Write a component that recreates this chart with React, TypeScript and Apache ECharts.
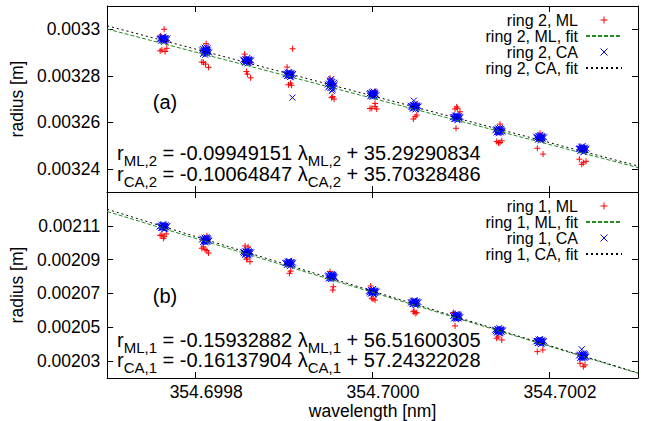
import React, { useEffect, useRef } from 'react';
import * as echarts from 'echarts';

// ---- axes ----
const xRange = [354.6997, 354.7003];
const xTicks = [354.6998, 354.7, 354.7002];
const ring2Range = [0.00323, 0.00331];
const ring2Ticks = [0.00324, 0.00326, 0.00328, 0.0033];
const ring1Range = [0.00202, 0.00213];
const ring1Ticks = [0.00203, 0.00205, 0.00207, 0.00209, 0.00211];

// ---- measurement wavelengths (nm), one per cluster ----
const clusterWavelengths = [
  354.6997636, 354.6998112, 354.6998582, 354.6999058, 354.6999533, 354.7000002,
  354.7000476, 354.700095, 354.7001429, 354.7001893, 354.7002374,
];

// ML points per cluster: [wavelength offset (1e-6 nm), radius (µm)]
const ring2ML = [
  [[0.8, 3300.0], [-3.2, 3297.1], [-0.3, 3295.8], [3.1, 3295.0], [-1.8, 3291.1], [1.9, 3290.4], [3.8, 3291.8], [-3.7, 3290.7]],
  [[0.7, 3293.8], [-1.6, 3291.0], [1.8, 3289.7], [-2.4, 3285.7], [-0.1, 3285.0], [3.3, 3283.6], [-4.2, 3285.9]],
  [[-2.8, 3289.3], [0, 3286.8], [3.4, 3285.9], [-0.8, 3281.8], [0.3, 3280.7], [4.0, 3279.1]],
  [[3.8, 3291.6], [-2.4, 3283.7], [0, 3280.8], [2.2, 3279.9], [1.4, 3276.8], [2.7, 3275.9], [-0.9, 3276.1]],
  [[-1.4, 3278.9], [0, 3275.6], [2.0, 3276.4], [1.7, 3271.0], [3.2, 3270.0], [0.3, 3270.6]],
  [[2.6, 3273.4], [-0.8, 3271.8], [-1.1, 3266.0], [2.6, 3266.7], [4.5, 3265.7], [-3.1, 3265.9], [2.6, 3268.1]],
  [[-0.7, 3267.0], [1.6, 3267.9], [0.5, 3262.4], [2.4, 3263.1], [-1.5, 3261.4]],
  [[-1.8, 3265.7], [0.1, 3266.6], [3.8, 3264.5], [0.8, 3266.0], [0.5, 3261.8], [-0.7, 3257.4]],
  [[1.1, 3259.2], [0, 3256.2], [-2.6, 3251.7], [1.1, 3251.3], [3.1, 3252.0], [-0.6, 3251.1]],
  [[0, 3255.3], [0.8, 3253.2], [-3.1, 3248.8], [3.4, 3246.3]],
  [[-0.7, 3248.6], [-2.9, 3249.3], [-3.7, 3244.1], [0.8, 3242.6], [3.8, 3243.2], [-1.0, 3241.9]],
];

const ring1ML = [
  [[-0.3, 2109.9], [1.9, 2108.7], [-1.8, 2104.6], [0.8, 2103.6], [3.1, 2105.2], [0, 2102.6], [-3.7, 2104.3]],
  [[1.5, 2104.0], [-0.5, 2101.6], [-2.4, 2097.5], [-0.5, 2096.0], [3.3, 2093.9], [1.5, 2095.3], [-4.2, 2096.7]],
  [[-2.3, 2098.1], [1.1, 2097.5], [0, 2094.3], [-0.6, 2090.2], [3.2, 2088.8], [0, 2091.0]],
  [[0.5, 2088.0], [-1.5, 2087.4], [0.2, 2081.9], [1.6, 2083.2]],
  [[-1.4, 2082.9], [0.6, 2079.6], [1.7, 2072.0], [2.3, 2074.0]],
  [[-2.3, 2074.4], [0.5, 2071.2], [-1.1, 2067.1], [2.6, 2066.1], [0.3, 2066.7]],
  [[-0.5, 2064.9], [1.4, 2064.1], [-1.5, 2059.2], [2.4, 2058.6], [0.5, 2058.2], [-0.7, 2059.6]],
  [[-3.7, 2058.7], [-1.8, 2058.2], [0.8, 2056.0], [-1.8, 2050.8]],
  [[0.3, 2048.2], [-2.6, 2043.5], [3.1, 2042.5], [-1.1, 2044.3]],
  [[0.4, 2041.7], [-3.1, 2035.6], [3.1, 2036.6]],
  [[-0.4, 2033.4], [-2.9, 2028.7], [2.7, 2027.7], [0.8, 2026.7]],
];

// CA cluster centres (µm) and spread of each cluster: [wavelength offset (1e-6 nm), radius offset (µm)]
const ring2CACentres = [3295.7, 3290.6, 3286.5, 3280.5, 3276.0, 3272.0, 3266.7, 3262.0, 3256.4, 3253.4, 3248.4];
const ring2CASpread = [
  [[0, 0], [-3.4, 0.3], [3.4, -0.3], [-1.7, 0.9], [1.7, -0.9], [-2.5, -0.6], [2.5, 0.6], [-4.3, 0.1], [4.3, 0.3], [0, 1.1], [0.8, -1.1], [-1.1, -0.3], [1.2, 0.4], [-0.5, 0.5], [2.0, -0.1], [-2.2, 0.2], [-0.6, 0.2], [0.7, -0.2], [-1.8, -0.5], [1.9, 0.3], [0.2, -0.5], [-0.2, 0.6]],
  [[0.4, 0.2], [-3, 0.9], [3, -0.3], [-1.1, 1.5], [2.1, -1.2], [-2.7, -1.2], [2.3, 1.2], [-3.9, 0.3], [4.1, -0.6], [-0.4, -1.6], [1.0, 1.7], [-1.6, 0.1], [1.5, -0.4], [0.2, 0.9], [-0.9, -0.7], [2.8, 0.3], [-0.5, 0.3], [0.8, -0.1], [-1.9, -0.6], [1.7, 0.5], [0.3, -0.8], [-0.1, 0.7]],
  [[-0.2, -0.1], [-3.6, -0.2], [3.2, 0.4], [-2.0, 0.7], [1.4, -1.0], [-2.3, -0.9], [2.8, -0.5], [-4.4, 0.4], [4.5, 0.1], [0.3, 1.2], [0.7, -1.2], [-1.0, 0.3], [1.8, 0.6], [-0.6, -0.6], [2.4, -0.2], [-2.9, 0.1], [-0.7, 0.1], [0.6, -0.3], [-1.6, -0.4], [2.1, 0.2], [0.1, -0.4], [-0.3, 0.5]],
  [[0, 0], [-3.4, 0.3], [3.4, -0.3], [-1.7, 0.9], [1.7, -0.9], [-2.5, -0.6], [2.5, 0.6], [-4.3, 0.1], [4.3, 0.3], [0, 1.1], [0.8, -1.1], [-1.1, -0.3], [1.2, 0.4], [-0.5, 0.5], [2.0, -0.1], [-2.2, 0.2], [-0.6, 0.2], [0.7, -0.2], [-1.8, -0.5], [1.9, 0.3], [0.2, -0.5], [-0.2, 0.6], [3.6, -9.9]],
  [[0, 0], [-2.6, 0.6], [2.6, -0.5], [-1.5, 1.9], [1.5, -1.9], [-3.3, -1.0], [3.3, 1.0], [0, 2.6], [0.8, -2.5], [-4.0, 0.2], [4.0, 0.3], [-0.9, -1.2], [1.1, 1.3], [-0.3, 0.8], [2.0, -0.3], [-2.0, -0.3], [-0.6, 0.4], [0.7, -0.4], [-1.2, 1.2], [1.4, -1.0], [0.3, -1.3], [-0.2, 1.6]],
  [[0.4, 0.1], [-3, 0.6], [3, -0.2], [-1.1, 1.0], [2.1, -0.8], [-2.7, -0.8], [2.3, 0.8], [-3.9, 0.2], [4.1, -0.4], [-0.4, -1.1], [1.0, 1.2], [-1.6, 0.1], [1.5, -0.3], [0.2, 0.6], [-0.9, -0.5], [2.8, 0.2], [-0.5, 0.3], [0.8, -0.1], [-1.9, -0.5], [1.7, 0.4], [0.3, -0.6], [-0.1, 0.6]],
  [[-0.2, -0.1], [-3.6, -0.2], [3.2, 0.4], [-2.0, 0.7], [1.4, -1.0], [-2.3, -0.9], [2.8, -0.5], [-4.4, 0.4], [4.5, 0.1], [0.3, 1.2], [0.7, -1.2], [-1.0, 0.3], [1.8, 0.6], [-0.6, -0.6], [2.4, -0.2], [-2.9, 0.1], [-0.7, 0.1], [0.6, -0.3], [-1.6, -0.4], [2.1, 0.2], [0.1, -0.4], [-0.3, 0.5], [-1.0, 2.6]],
  [[0, 0], [-3.4, 0.3], [3.4, -0.3], [-1.7, 0.9], [1.7, -0.9], [-2.5, -0.6], [2.5, 0.6], [-4.3, 0.1], [4.3, 0.3], [0, 1.1], [0.8, -1.1], [-1.1, -0.3], [1.2, 0.4], [-0.5, 0.5], [2.0, -0.1], [-2.2, 0.2], [-0.6, 0.2], [0.7, -0.2], [-1.8, -0.5], [1.9, 0.3], [0.2, -0.5], [-0.2, 0.6]],
  [[0.4, 0.1], [-3, 0.6], [3, -0.2], [-1.1, 1.0], [2.1, -0.8], [-2.7, -0.8], [2.3, 0.8], [-3.9, 0.2], [4.1, -0.4], [-0.4, -1.1], [1.0, 1.2], [-1.6, 0.1], [1.5, -0.3], [0.2, 0.6], [-0.9, -0.5], [2.8, 0.2], [-0.5, 0.3], [0.8, -0.1], [-1.9, -0.5], [1.7, 0.4], [0.3, -0.6], [-0.1, 0.6]],
  [[-0.2, -0.1], [-3.6, -0.2], [3.2, 0.4], [-2.0, 0.7], [1.4, -1.0], [-2.3, -0.9], [2.8, -0.5], [-4.4, 0.4], [4.5, 0.1], [0.3, 1.2], [0.7, -1.2], [-1.0, 0.3], [1.8, 0.6], [-0.6, -0.6], [2.4, -0.2], [-2.9, 0.1], [-0.7, 0.1], [0.6, -0.3], [-1.6, -0.4], [2.1, 0.2], [0.1, -0.4], [-0.3, 0.5]],
  [[0, 0], [-3.4, 0.4], [3.4, -0.4], [-1.7, 1.1], [1.7, -1.1], [-2.5, -0.7], [2.5, 0.7], [-4.3, 0.1], [4.3, 0.3], [0, 1.3], [0.8, -1.3], [-1.1, -0.3], [1.2, 0.4], [-0.5, 0.5], [2.0, -0.1], [-2.2, 0.2], [-0.6, 0.2], [0.7, -0.2], [-1.8, -0.5], [1.9, 0.3], [0.2, -0.5], [-0.2, 0.6]],
];

const ring1CACentres = [2109.5, 2101.6, 2094.1, 2087.8, 2079.9, 2071.0, 2064.5, 2056.3, 2048.0, 2041.5, 2033.0];
const ring1CASpread = [
  [[0, 0], [-3.4, 0.4], [3.4, -0.4], [-1.7, 1.2], [1.7, -1.2], [-2.5, -0.8], [2.5, 0.8], [-4.3, 0.1], [4.3, 0.4], [0, 1.5], [0.8, -1.5], [-1.1, -0.4], [1.2, 0.5], [-0.5, 0.7], [2.0, -0.1], [-2.2, 0.3], [-0.6, 0.3], [0.7, -0.3], [-1.8, -0.7], [1.9, 0.4], [0.2, -0.7], [-0.2, 0.8]],
  [[0.4, 0.1], [-3, 0.8], [3, -0.3], [-1.1, 1.4], [2.1, -1.1], [-2.7, -1.1], [2.3, 1.1], [-3.9, 0.3], [4.1, -0.5], [-0.4, -1.5], [1.0, 1.6], [-1.6, 0.1], [1.5, -0.4], [0.2, 0.8], [-0.9, -0.7], [2.8, 0.3], [-0.5, 0.4], [0.8, -0.1], [-1.9, -0.7], [1.7, 0.5], [0.3, -0.8], [-0.1, 0.8]],
  [[-0.2, -0.1], [-3.6, -0.3], [3.2, 0.5], [-2.0, 1.0], [1.4, -1.4], [-2.3, -1.2], [2.8, -0.7], [-4.4, 0.5], [4.5, 0.1], [0.3, 1.6], [0.7, -1.6], [-1.0, 0.4], [1.8, 0.8], [-0.6, -0.8], [2.4, -0.3], [-2.9, 0.1], [-0.7, 0.1], [0.6, -0.4], [-1.6, -0.5], [2.1, 0.3], [0.1, -0.5], [-0.3, 0.7]],
  [[0, 0], [-3.4, 0.4], [3.4, -0.4], [-1.7, 1.2], [1.7, -1.2], [-2.5, -0.8], [2.5, 0.8], [-4.3, 0.1], [4.3, 0.4], [0, 1.5], [0.8, -1.5], [-1.1, -0.4], [1.2, 0.5], [-0.5, 0.7], [2.0, -0.1], [-2.2, 0.3], [-0.6, 0.3], [0.7, -0.3], [-1.8, -0.7], [1.9, 0.4], [0.2, -0.7], [-0.2, 0.8]],
  [[0.4, 0.1], [-3, 0.8], [3, -0.3], [-1.1, 1.4], [2.1, -1.1], [-2.7, -1.1], [2.3, 1.1], [-3.9, 0.3], [4.1, -0.5], [-0.4, -1.5], [1.0, 1.6], [-1.6, 0.1], [1.5, -0.4], [0.2, 0.8], [-0.9, -0.7], [2.8, 0.3], [-0.5, 0.4], [0.8, -0.1], [-1.9, -0.7], [1.7, 0.5], [0.3, -0.8], [-0.1, 0.8]],
  [[-0.2, -0.1], [-3.6, -0.3], [3.2, 0.5], [-2.0, 1.0], [1.4, -1.4], [-2.3, -1.2], [2.8, -0.7], [-4.4, 0.5], [4.5, 0.1], [0.3, 1.6], [0.7, -1.6], [-1.0, 0.4], [1.8, 0.8], [-0.6, -0.8], [2.4, -0.3], [-2.9, 0.1], [-0.7, 0.1], [0.6, -0.4], [-1.6, -0.5], [2.1, 0.3], [0.1, -0.5], [-0.3, 0.7]],
  [[0, 0], [-3.4, 0.4], [3.4, -0.4], [-1.7, 1.2], [1.7, -1.2], [-2.5, -0.8], [2.5, 0.8], [-4.3, 0.1], [4.3, 0.4], [0, 1.5], [0.8, -1.5], [-1.1, -0.4], [1.2, 0.5], [-0.5, 0.7], [2.0, -0.1], [-2.2, 0.3], [-0.6, 0.3], [0.7, -0.3], [-1.8, -0.7], [1.9, 0.4], [0.2, -0.7], [-0.2, 0.8]],
  [[0.4, 0.1], [-3, 0.8], [3, -0.3], [-1.1, 1.4], [2.1, -1.1], [-2.7, -1.1], [2.3, 1.1], [-3.9, 0.3], [4.1, -0.5], [-0.4, -1.5], [1.0, 1.6], [-1.6, 0.1], [1.5, -0.4], [0.2, 0.8], [-0.9, -0.7], [2.8, 0.3], [-0.5, 0.4], [0.8, -0.1], [-1.9, -0.7], [1.7, 0.5], [0.3, -0.8], [-0.1, 0.8]],
  [[-0.2, -0.1], [-3.6, -0.3], [3.2, 0.5], [-2.0, 1.0], [1.4, -1.4], [-2.3, -1.2], [2.8, -0.7], [-4.4, 0.5], [4.5, 0.1], [0.3, 1.6], [0.7, -1.6], [-1.0, 0.4], [1.8, 0.8], [-0.6, -0.8], [2.4, -0.3], [-2.9, 0.1], [-0.7, 0.1], [0.6, -0.4], [-1.6, -0.5], [2.1, 0.3], [0.1, -0.5], [-0.3, 0.7]],
  [[0, 0], [-3.4, 0.4], [3.4, -0.4], [-1.7, 1.2], [1.7, -1.2], [-2.5, -0.8], [2.5, 0.8], [-4.3, 0.1], [4.3, 0.4], [0, 1.5], [0.8, -1.5], [-1.1, -0.4], [1.2, 0.5], [-0.5, 0.7], [2.0, -0.1], [-2.2, 0.3], [-0.6, 0.3], [0.7, -0.3], [-1.8, -0.7], [1.9, 0.4], [0.2, -0.7], [-0.2, 0.8]],
  [[0.4, 0.1], [-3, 0.8], [3, -0.3], [-1.1, 1.4], [2.1, -1.1], [-2.7, -1.1], [2.3, 1.1], [-3.9, 0.3], [4.1, -0.5], [-0.4, -1.5], [1.0, 1.6], [-1.6, 0.1], [1.5, -0.4], [0.2, 0.8], [-0.9, -0.7], [2.8, 0.3], [-0.5, 0.4], [0.8, -0.1], [-1.9, -0.7], [1.7, 0.5], [0.3, -0.8], [-0.1, 0.8], [-1.0, 4.0]],
];

// fitted lines: radius (µm) at the two ends of xRange
const ring2MLFit = [3300.1, 3240.5];
const ring2CAFit = [3301.5, 3241.2];
const ring1MLFit = [2118.5, 2022.8];
const ring1CAFit = [2119.8, 2023.0];

const FONT = 'Liberation Sans, Arial, sans-serif';
const PLUS = 'path://M0,5L10,5M5,0L5,10';
const CROSS = 'path://M0,0L10,10M10,0L0,10';

const toPoints = (clusters: number[][][]) =>
  clusters.flatMap((pts, i) => pts.map(([dl, r]) => [clusterWavelengths[i] + dl * 1e-6, r * 1e-6]));
const toPointsCentred = (centres: number[], spread: number[][][]) =>
  spread.flatMap((pts, i) => pts.map(([dl, dr]) => [clusterWavelengths[i] + dl * 1e-6, (centres[i] + dr) * 1e-6]));
const fitPoints = (ends: number[]) => [
  [xRange[0], ends[0] * 1e-6],
  [xRange[1], ends[1] * 1e-6],
];

const axisLineStyle = { show: true, onZero: false, lineStyle: { color: '#000', width: 1 } };

const xAxis = (grid: number, position: string, labels: boolean) => ({
  type: 'value',
  gridIndex: grid,
  position,
  min: xRange[0],
  max: xRange[1],
  axisLine: axisLineStyle,
  axisTick: { show: true, inside: true, length: 6, customValues: xTicks, lineStyle: { color: '#000', width: 1 } },
  axisLabel: {
    show: labels,
    customValues: xTicks,
    formatter: (v: number) => v.toFixed(4),
    color: '#000',
    fontFamily: FONT,
    fontSize: 17.5,
    margin: 5,
    padding: [0, 0, 0, 21],
  },
  splitLine: { show: false },
  name: labels ? 'wavelength [nm]' : '',
  nameLocation: 'middle',
  nameGap: 23,
  nameTextStyle: { color: '#000', fontFamily: FONT, fontSize: 17.5 },
});

const yAxis = (grid: number, position: string, labels: boolean, range: number[], ticks: number[]) => ({
  type: 'value',
  gridIndex: grid,
  position,
  min: range[0],
  max: range[1],
  axisLine: axisLineStyle,
  axisTick: { show: true, inside: true, length: 6, customValues: ticks, lineStyle: { color: '#000', width: 1 } },
  axisLabel: {
    show: labels,
    customValues: ticks,
    formatter: (v: number) => String(Number(v.toPrecision(3))),
    color: '#000',
    fontFamily: FONT,
    fontSize: 17.5,
    margin: 7,
  },
  splitLine: { show: false },
  name: labels ? 'radius [m]' : '',
  nameLocation: 'middle',
  nameRotate: 90,
  nameGap: 69,
  nameTextStyle: { color: '#000', fontFamily: FONT, fontSize: 17.5 },
});

const scatter = (name: string, grid: number, data: number[][], symbol: string, color: string) => ({
  type: 'scatter',
  name,
  xAxisIndex: grid * 2,
  yAxisIndex: grid * 2,
  data,
  symbol,
  symbolSize: 6,
  symbolKeepAspect: true,
  itemStyle: { color, borderColor: color, borderWidth: 1, opacity: 1 },
  silent: true,
});

const fitLine = (name: string, grid: number, ends: number[], color: string, dash: number[]) => ({
  type: 'line',
  name,
  xAxisIndex: grid * 2,
  yAxisIndex: grid * 2,
  data: fitPoints(ends),
  symbol: 'none',
  lineStyle: { color, width: 1, type: dash },
  itemStyle: { color },
  silent: true,
});

const hiddenIcon = { color: 'rgba(0,0,0,0)', borderColor: 'rgba(0,0,0,0)', borderWidth: 0, opacity: 0 };

const legend = (ring: number, top: number) => ({
  data: [
    { name: `ring ${ring}, ML` },
    { name: `ring ${ring}, ML, fit`, itemStyle: hiddenIcon },
    { name: `ring ${ring}, CA` },
    { name: `ring ${ring}, CA, fit`, itemStyle: hiddenIcon },
  ],
  orient: 'vertical',
  right: 22,
  top,
  align: 'right',
  itemWidth: 36,
  itemHeight: 7,
  itemGap: 0,
  padding: 0,
  selectedMode: false,
  itemStyle: { borderWidth: 1 },
  textStyle: { color: '#000', fontFamily: FONT, fontSize: 16, lineHeight: 12.7, padding: [0, 3, 0, 0] },
});

const rich = {
  m: { fontFamily: FONT, fontSize: 20, lineHeight: 20, verticalAlign: 'top', fill: '#000' },
  s: { fontFamily: FONT, fontSize: 15, lineHeight: 15, verticalAlign: 'top', padding: [10, 0, 0, 0], fill: '#000' },
};

const eqText = (sub: string, slope: string, icpt: string) =>
  `{m|r}{s|${sub}}{m| = ${slope} λ}{s|${sub}}{m| + ${icpt}}`;

const equations = [
  { text: eqText('ML,2', '-0.09949151', '35.29290834'), y: 143 },
  { text: eqText('CA,2', '-0.10064847', '35.70328486'), y: 163.5 },
  { text: eqText('ML,1', '-0.15932882', '56.51600305'), y: 329.5 },
  { text: eqText('CA,1', '-0.16137904', '57.24322028'), y: 350 },
];

const panelLabels = [
  { text: '(a)', y: 101.5 },
  { text: '(b)', y: 296 },
];

export default function App() {
  const ref = useRef<HTMLDivElement>(null);
  useEffect(() => {
    if (!ref.current) return;
    const chart = echarts.init(ref.current, null, { renderer: 'svg' });
    chart.setOption({
      animation: false,
      backgroundColor: '#fff',
      textStyle: { fontFamily: FONT },
      grid: [
        { left: 107, top: 6, width: 531, height: 186, show: false },
        { left: 107, top: 192, width: 531, height: 186, show: false },
      ],
      xAxis: [xAxis(0, 'bottom', false), xAxis(0, 'top', false), xAxis(1, 'bottom', true), xAxis(1, 'top', false)],
      yAxis: [
        yAxis(0, 'left', true, ring2Range, ring2Ticks),
        yAxis(0, 'right', false, ring2Range, ring2Ticks),
        yAxis(1, 'left', true, ring1Range, ring1Ticks),
        yAxis(1, 'right', false, ring1Range, ring1Ticks),
      ],
      legend: [legend(2, 12), legend(1, 198)],
      series: [
        scatter('ring 2, ML', 0, toPoints(ring2ML), PLUS, '#ff0000'),
        fitLine('ring 2, ML, fit', 0, ring2MLFit, '#228b22', [4, 2]),
        scatter('ring 2, CA', 0, toPointsCentred(ring2CACentres, ring2CASpread), CROSS, '#0000ff'),
        fitLine('ring 2, CA, fit', 0, ring2CAFit, '#000000', [2, 3]),
        scatter('ring 1, ML', 1, toPoints(ring1ML), PLUS, '#ff0000'),
        fitLine('ring 1, ML, fit', 1, ring1MLFit, '#228b22', [4, 2]),
        scatter('ring 1, CA', 1, toPointsCentred(ring1CACentres, ring1CASpread), CROSS, '#0000ff'),
        fitLine('ring 1, CA, fit', 1, ring1CAFit, '#000000', [2, 3]),
      ],
      graphic: [
        ...equations.map((e) => ({
          type: 'text',
          x: 117,
          y: e.y,
          silent: true,
          style: { text: e.text, rich, verticalAlign: 'top', align: 'left', fill: '#000' },
        })),
        ...panelLabels.map((p) => ({
          type: 'text',
          x: 165,
          y: p.y,
          silent: true,
          style: { text: p.text, fontFamily: FONT, fontSize: 20, fill: '#000', align: 'center', verticalAlign: 'middle' },
        })),
      ],
    });
    return () => chart.dispose();
  }, []);
  return <div ref={ref} style={{ position: 'absolute', left: 0, top: 0, width: 645, height: 421 }} />;
}
